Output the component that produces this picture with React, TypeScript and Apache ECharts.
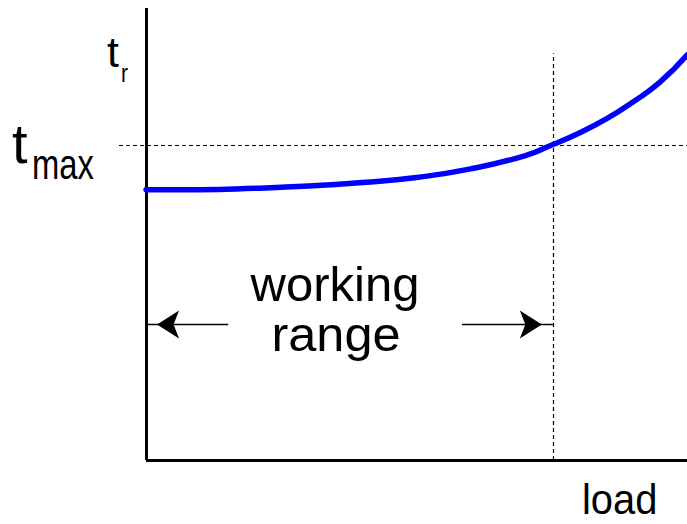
import React, { useEffect, useRef } from "react";
import * as echarts from "echarts";

// Schematic: temperature t_r versus load (arbitrary units, load 0..100, temperature 0..100)
const loads = [0, 10, 20, 30, 40, 50, 60, 70, 75, 80, 85, 90, 95, 100];
const temps = [59.8, 59.8, 60.1, 60.6, 61.4, 62.5, 64.4, 67.3, 69.7, 72.3, 75.4, 79.2, 83.6, 89.6];

const tMax = 69.7; // t_max level
const limitLoad = 75.2; // end of the working range
const dashStartLoad = -5; // t_max guide starts left of the axis
const dashTopTemp = 90; // top of the vertical guide
const arrowTemp = 30; // height of the working-range arrows
const leftArrowFrom = 15.2;
const rightArrowFrom = 58.4;
const xMin = -5;
const xMax = 100;
const yMin = 0;
const yMax = 100;

const FONT = "'Liberation Sans', Arial, Helvetica, sans-serif";

export default function App() {
  const ref = useRef<HTMLDivElement>(null);
  useEffect(() => {
    if (!ref.current) return;
    const chart = echarts.init(ref.current, undefined, { renderer: "svg" });
    const curve = loads.map((x, i) => [x, temps[i]]);
    const option: any = {
      animation: false,
      backgroundColor: "#ffffff",
      grid: { left: 119, right: 0, top: 8, bottom: 64, containLabel: false },
      xAxis: {
        type: "value",
        min: xMin,
        max: xMax,
        axisLine: { show: false },
        axisTick: { show: false },
        axisLabel: { show: false },
        splitLine: { show: false },
      },
      yAxis: {
        type: "value",
        min: yMin,
        max: yMax,
        axisLine: { show: false },
        axisTick: { show: false },
        axisLabel: { show: false },
        splitLine: { show: false },
      },
      series: [
        {
          name: "axes",
          type: "line",
          data: [],
          silent: true,
          markLine: {
            silent: true,
            symbol: ["none", "none"],
            label: { show: false },
            emphasis: { disabled: true },
            lineStyle: { color: "#000", width: 3, type: "solid" },
            data: [
              [{ coord: [0, yMin] }, { coord: [0, yMax] }],
              [{ coord: [0, yMin] }, { coord: [xMax, yMin] }],
            ],
          },
        },
        {
          name: "guides",
          type: "line",
          data: [],
          silent: true,
          markLine: {
            silent: true,
            symbol: ["none", "none"],
            label: { show: false },
            emphasis: { disabled: true },
            lineStyle: { color: "#000", width: 1.2, type: [4, 3] },
            data: [
              [{ coord: [dashStartLoad, tMax] }, { coord: [xMax, tMax] }],
              [{ coord: [limitLoad, yMin] }, { coord: [limitLoad, dashTopTemp] }],
            ],
          },
        },
        {
          name: "arrows",
          type: "line",
          data: [],
          silent: true,
          markLine: {
            silent: true,
            symbol: ["none", "arrow"],
            symbolSize: [21, 22],
            symbolOffset: [
              [0, 0],
              [0, "50%"],
            ],
            label: { show: false },
            emphasis: { disabled: true },
            lineStyle: { color: "#000", width: 1.3, type: "solid" },
            itemStyle: { color: "#000" },
            data: [
              [{ coord: [leftArrowFrom, arrowTemp] }, { coord: [0, arrowTemp] }],
              [{ coord: [rightArrowFrom, arrowTemp] }, { coord: [limitLoad, arrowTemp] }],
            ],
          },
        },
        {
          name: "t_r",
          type: "line",
          data: curve,
          smooth: 0.5,
          showSymbol: false,
          silent: true,
          lineStyle: { color: "#0000ff", width: 5.5, cap: "round" },
          z: 5,
        },
      ],
      graphic: [
        {
          type: "text",
          x: 335,
          y: 284,
          style: { text: "working", font: `49px ${FONT}`, fill: "#000", textAlign: "center", textVerticalAlign: "middle" },
        },
        {
          type: "text",
          x: 336,
          y: 334,
          scaleX: 1.03,
          style: { text: "range", font: `49px ${FONT}`, fill: "#000", textAlign: "center", textVerticalAlign: "middle" },
        },
        {
          type: "text",
          x: 12,
          y: 143,
          style: { text: "t", font: `56px ${FONT}`, fill: "#000", textAlign: "left", textVerticalAlign: "middle" },
        },
        {
          type: "text",
          x: 32,
          y: 165,
          scaleX: 0.78,
          style: { text: "max", font: `42px ${FONT}`, fill: "#000", textAlign: "left", textVerticalAlign: "middle" },
        },
        {
          type: "text",
          x: 107,
          y: 52,
          style: { text: "t", font: `43px ${FONT}`, fill: "#000", textAlign: "left", textVerticalAlign: "middle" },
        },
        {
          type: "text",
          x: 121,
          y: 73,
          scaleX: 0.85,
          style: { text: "r", font: `25px ${FONT}`, fill: "#000", textAlign: "left", textVerticalAlign: "middle" },
        },
        {
          type: "text",
          x: 582,
          y: 500,
          scaleX: 0.95,
          style: { text: "load", font: `42px ${FONT}`, fill: "#000", textAlign: "left", textVerticalAlign: "middle" },
        },
      ],
    };
    chart.setOption(option);
    return () => chart.dispose();
  }, []);
  return (
    <div
      ref={ref}
      style={{ position: "fixed", left: 0, top: 0, width: 687, height: 524, background: "#fff" }}
    />
  );
}
